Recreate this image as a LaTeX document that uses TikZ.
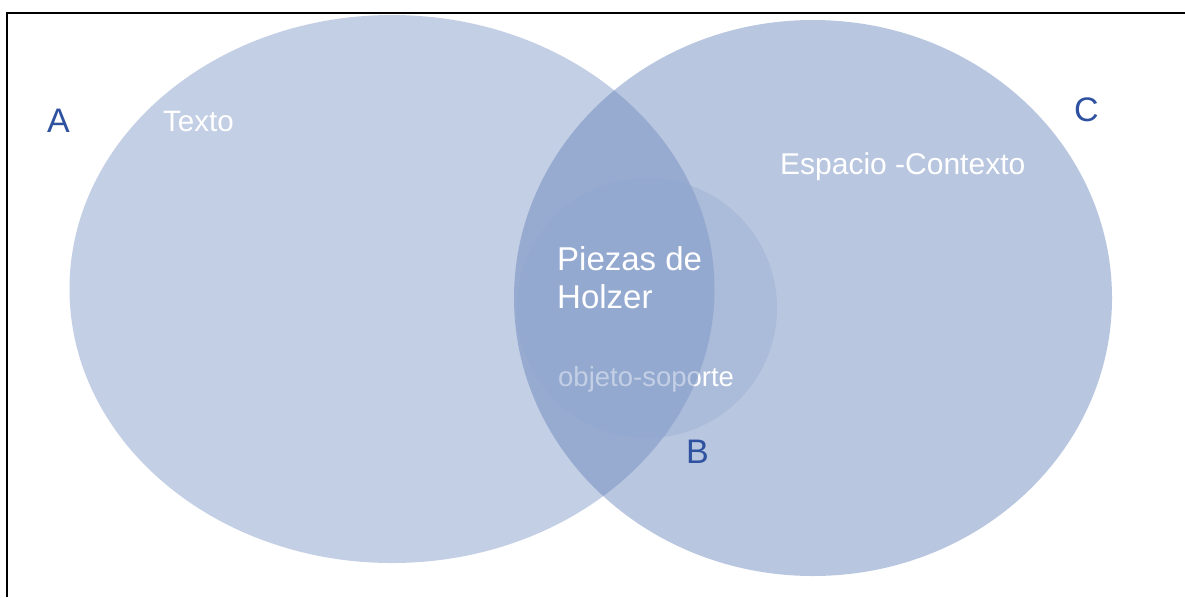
\documentclass[tikz,border=0pt]{standalone}
\usepackage{fontspec}
\setmainfont{Liberation Sans}
\definecolor{vblue}{RGB}{93,125,185}
\definecolor{lblue}{RGB}{46,82,160}
\tikzset{
  lbl/.style={anchor=base west, inner sep=0pt, text=white},
  letter/.style={anchor=base west, inner sep=0pt, text=lblue, font=\fontsize{34}{40}\selectfont},
}
\begin{document}
\begin{tikzpicture}[x=1pt,y=-1pt]
\useasboundingbox (0,0) rectangle (1185,597);
\fill[white] (0,0) rectangle (1185,597);
% ellipse C
\fill[vblue, fill opacity=0.43] (813,298) ellipse [x radius=299, y radius=278];
% circle B (part outside A)
\begin{scope}
  \clip (647,308) circle [radius=130];
  \fill[vblue, fill opacity=0.15, even odd rule] (0,0) rectangle (1185,597) (392,289) ellipse [x radius=322.5, y radius=274];
\end{scope}
% circle B (faint, inside A)
\begin{scope}
  \clip (392,289) ellipse [x radius=322.5, y radius=274];
  \fill[vblue, fill opacity=0.04] (647,308) circle [radius=130];
\end{scope}
% text under A
\node[lbl, font=\fontsize{27.5}{33}\selectfont] (obj) at (558,386) {objeto-soporte};
% ellipse A
\fill[vblue, fill opacity=0.37] (392,289) ellipse [x radius=322.5, y radius=274];
% labels
\node[lbl, font=\fontsize{29.5}{35}\selectfont] (texto) at (163,131) {Texto};
\node[lbl, font=\fontsize{30}{36}\selectfont] (esp) at (780,174) {Espacio -Contexto};
\node[lbl, font=\fontsize{33}{38}\selectfont] (p1) at (557,270) {Piezas de};
\node[lbl, font=\fontsize{33}{38}\selectfont] (p2) at (557,308) {Holzer};
\node[letter] (a) at (47,132) {A};
\node[letter] (c) at (1074,121) {C};
\node[letter] (b) at (686,463) {B};
% frame (top and left)
\draw[line width=2pt] (1185,13) -- (7,13) -- (7,597);
\end{tikzpicture}
\end{document}
